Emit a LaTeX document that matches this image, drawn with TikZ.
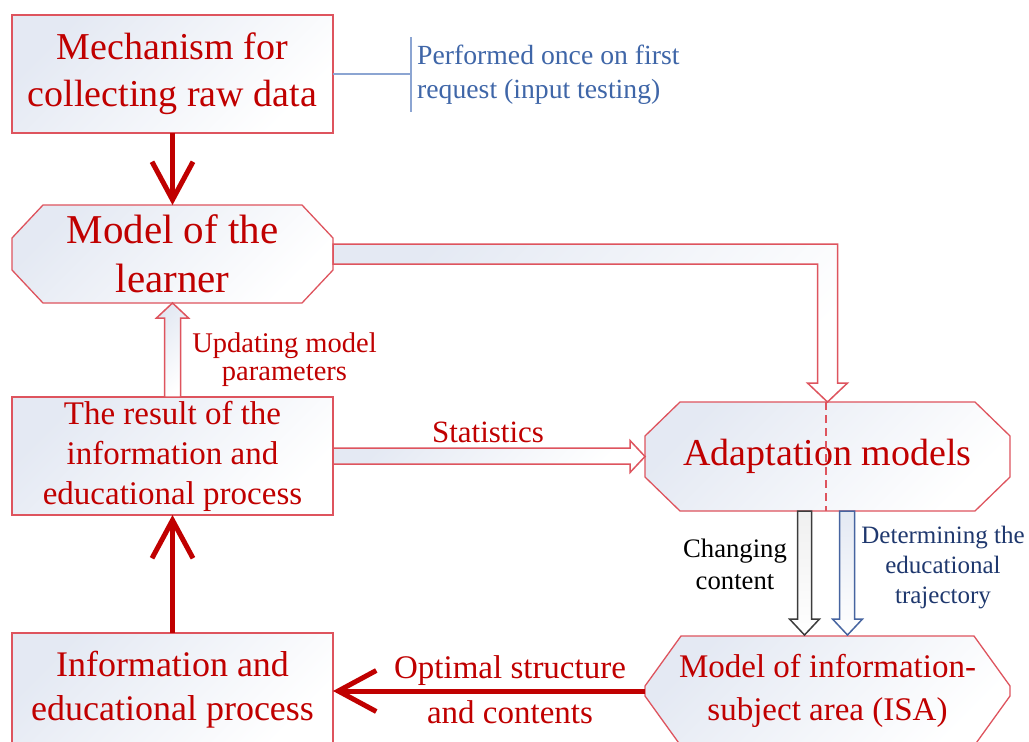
\documentclass[tikz,border=0pt]{standalone}
\usepackage{fontspec}
\setmainfont{Liberation Serif}
\usetikzlibrary{arrows.meta,calc,backgrounds}
\definecolor{rtext}{RGB}{192,0,0}
\definecolor{rline}{RGB}{222,84,94}
\definecolor{bnote}{RGB}{63,102,168}
\definecolor{bline}{RGB}{140,165,210}
\definecolor{navy}{RGB}{31,56,110}
\definecolor{shadec}{RGB}{228,233,243}
\definecolor{garrow}{RGB}{60,60,60}
\definecolor{barrow}{RGB}{70,100,160}
\newcommand\setfs[2]{\fontsize{#1}{#2}\selectfont}
% octagon outline around a node: node name, horizontal chamfer, vertical chamfer
\newcommand\octpath[3]{($(#1.north west)+(#2,0)$) -- ($(#1.north east)+(-#2,0)$) -- ($(#1.north east)+(0,#3)$) -- ($(#1.south east)+(0,-#3)$) -- ($(#1.south east)+(-#2,0)$) -- ($(#1.south west)+(#2,0)$) -- ($(#1.south west)+(0,-#3)$) -- ($(#1.north west)+(0,#3)$) -- cycle}
\begin{document}
\begin{tikzpicture}[x=1pt,y=-1pt,
  box/.style={draw=none, inner sep=0pt, outer sep=0pt, text=rtext, align=center},
  frame/.style={draw=rline, line width=1.3pt, top color=shadec, bottom color=white, shading angle=45},
  hollow/.style={draw=rline, line width=1.5pt, line join=miter, top color=shadec, bottom color=white, shading angle=45},
  ghollow/.style={hollow, draw=garrow, top color=gray!12, bottom color=white},
  bhollow/.style={hollow, draw=barrow, top color=shadec, bottom color=white},
  redarrow/.style={draw=rtext, line width=5pt, -{Straight Barb[length=38pt,width=41pt]}},
  lbl/.style={align=center, inner sep=0pt},
]
\useasboundingbox (0,0) rectangle (1029,742);
\clip (0,0) rectangle (1029,742);

% nodes
\node[box, minimum width=321pt, minimum height=118pt, font=\setfs{38}{47}] (mech) at (172.5,74) {Mechanism for\\collecting raw data};
\node[box, minimum width=321pt, minimum height=98pt, font=\setfs{41}{49}] (learner) at (172.5,254) {Model of the\\learner};
\node[box, minimum width=321pt, minimum height=118pt, font=\setfs{33}{40}] (result) at (172.5,456) {The result of the\\information and\\educational process};
\node[box, minimum width=321pt, minimum height=114pt, font=\setfs{36}{44}] (info) at (172.5,690) {Information and\\educational process};
\node[box, minimum width=365pt, minimum height=109pt, font=\setfs{38}{47}] (adapt) at (827.5,456.5) {Adaptation models};
\node[box, minimum width=365pt, minimum height=110pt, font=\setfs{33}{43}] (isa) at (827.5,691) {Model of information-\\subject area (ISA)};

% frames
\begin{scope}[on background layer]
\fill[white] (0,0) rectangle (1029,742);
\draw[frame] (mech.north west) rectangle (mech.south east);
\draw[frame] \octpath{learner}{31}{33};
\draw[frame] (result.north west) rectangle (result.south east);
\draw[frame] (info.north west) rectangle (info.south east);
\draw[frame] \octpath{adapt}{35}{34};
\draw[frame] \octpath{isa}{36}{50};
\end{scope}

% annotation
\coordinate (brk) at (411,74);
\draw[bline, line width=1.2pt] (mech.east) -- (brk);
\draw[bline, line width=1.2pt] ($(brk)+(0,-37)$) -- ($(brk)+(0,38)$);
\node[lbl, anchor=west, align=left, text=bnote, font=\setfs{27.7}{34}] (note) at (417,75) {Performed once on first\\request (input testing)};

% red arrows
\draw[redarrow] (mech.south) -- (learner.north);
\draw[redarrow] (info.north) -- (result.south);
\draw[redarrow] (isa.west) -- (isa.west -| info.east);

% hollow arrows
\draw[hollow] ($(learner.east)+(0,-10)$) -| ($(adapt.north)+(10,-19)$) -- ++(10,0) -- (adapt.north) -- ++(-20,-19) -- ++(10,0) |- ($(learner.east)+(0,10)$) -- cycle;
\draw[hollow] ($(result.north)+(-8,0)$) |- ($(learner.south)+(-16,15)$) -- (learner.south) -- ++(16,15) -- ++(-8,0) |- ($(result.north)+(8,0)$) -- cycle;
\draw[hollow] ($(result.east)+(0,-8)$) -| ($(adapt.west)+(-15,-16)$) -- (adapt.west) -- ++(-15,16) |- ($(result.east)+(0,8)$) -- cycle;
\draw[ghollow] ($(adapt.south)+(-30,0)$) |- ($(isa.north)+(-38,-17)$) -- ($(isa.north)+(-23,-1)$) -- ++(15,-16) -| ($(adapt.south)+(-16,0)$) -- cycle;
\draw[bhollow] ($(adapt.south)+(12,0)$) |- ($(isa.north)+(5,-17)$) -- ($(isa.north)+(20,-1)$) -- ++(15,-16) -| ($(adapt.south)+(27,0)$) -- cycle;

% dashed divider
\draw[rline, line width=1.3pt, dash pattern=on 8pt off 5pt] ($(adapt.north)+(-1.5,0)$) -- ($(adapt.south)+(-1.5,0)$);

% labels
\node[lbl, text=rtext, font=\setfs{28.5}{28}] (upd) at (284.5,360) {Updating model\\parameters};
\node[lbl, text=rtext, font=\setfs{31}{38}] (stat) at (488,432) {Statistics};
\node[lbl, text=rtext, font=\setfs{33}{45}] (opt) at (510,690) {Optimal structure\\and contents};
\node[lbl, text=black, font=\setfs{26.7}{32}] (chg) at (735,564) {Changing\\content};
\node[lbl, text=navy, font=\setfs{25}{30}] (det) at (943,568) {Determining the\\educational\\trajectory};
\end{tikzpicture}
\end{document}
